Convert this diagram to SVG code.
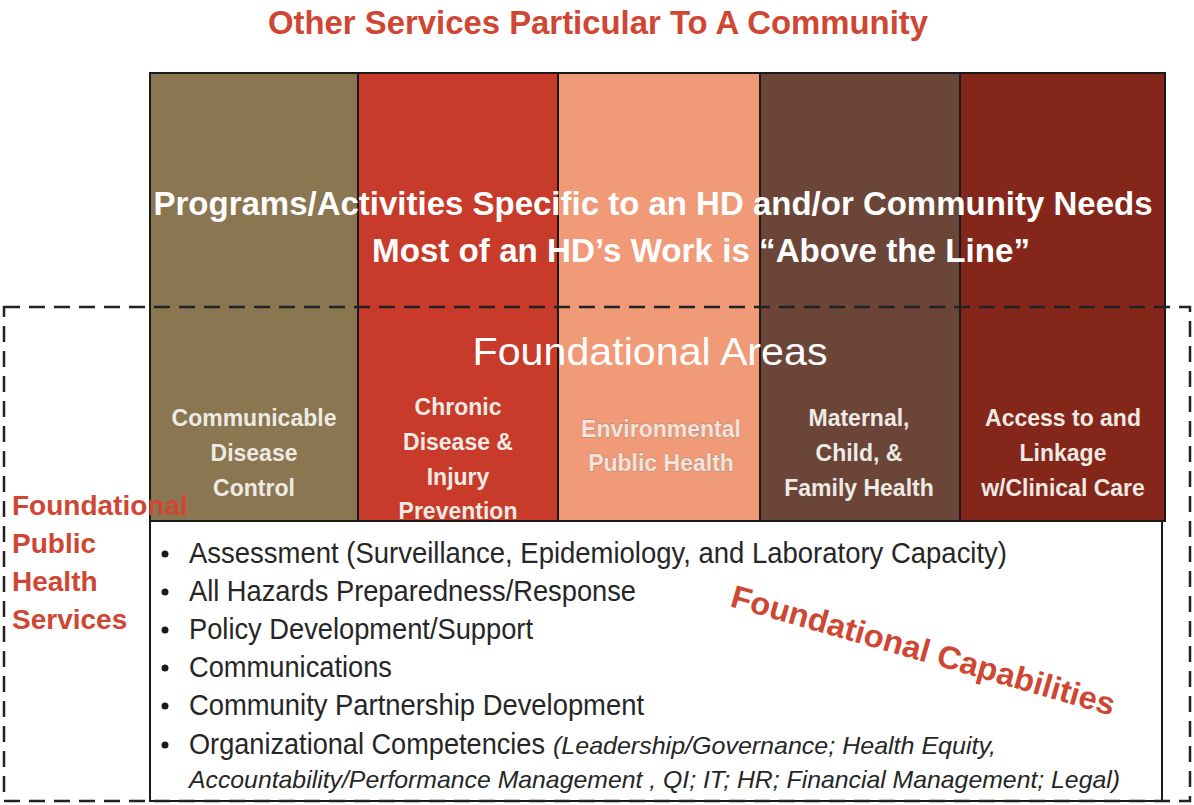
<svg xmlns="http://www.w3.org/2000/svg" width="1194" height="805" viewBox="0 0 1194 805">
<style>
.col{stroke:#1a1a1a;stroke-width:2}
.hdr{font-family:"Liberation Sans",Arial,sans-serif;font-weight:bold;fill:#ffffff;text-anchor:middle}
.area{font-family:"Liberation Sans",Arial,sans-serif;font-weight:bold;font-size:23px;fill:#eeeae4;text-anchor:middle}
.env{fill:#f6e2d8;stroke:#a88a7c;stroke-width:0.8;paint-order:stroke}
.red{font-family:"Liberation Sans",Arial,sans-serif;font-weight:bold;fill:#cf4632}
.bul{font-family:"Liberation Sans",Arial,sans-serif;font-size:29px;fill:#262626}
.ital{font-style:italic;font-size:24px}
.dash{fill:none;stroke:#222;stroke-width:2.5;stroke-dasharray:16 9}
</style>
<rect width="1194" height="805" fill="#ffffff"/>
<text id="title" class="red" x="268" y="34" font-size="34" textLength="660" lengthAdjust="spacingAndGlyphs">Other Services Particular To A Community</text>
<g id="columns">
<g id="col-communicable"><rect class="col" x="150" y="73" width="208" height="448" fill="#8a7752"/></g>
<g id="col-chronic"><rect class="col" x="358" y="73" width="200" height="448" fill="#c83a29"/></g>
<g id="col-environmental"><rect class="col" x="558" y="73" width="202" height="448" fill="#f09a77"/></g>
<g id="col-maternal"><rect class="col" x="760" y="73" width="200" height="448" fill="#6b4538"/></g>
<g id="col-access"><rect class="col" x="960" y="73" width="205" height="448" fill="#85261b"/></g>
</g>
<g id="capabilities-box"><rect x="150" y="521" width="1012" height="280" fill="#ffffff" stroke="#1a1a1a" stroke-width="2"/></g>
<g id="programs-label">
<text class="hdr" x="653" y="215" font-size="33" textLength="999" lengthAdjust="spacingAndGlyphs">Programs/Activities Specific to an HD and/or Community Needs</text>
<text class="hdr" x="701" y="262" font-size="33" textLength="658" lengthAdjust="spacingAndGlyphs">Most of an HD’s Work is “Above the Line”</text>
</g>
<g id="foundational-areas-label">
<text x="650" y="365" font-family="'Liberation Sans',Arial,sans-serif" font-size="39" fill="#ffffff" text-anchor="middle" textLength="355" lengthAdjust="spacingAndGlyphs">Foundational Areas</text>
</g>
<g id="area-communicable">
<text class="area" x="254" y="426">Communicable</text>
<text class="area" x="254" y="461">Disease</text>
<text class="area" x="254" y="496">Control</text>
</g>
<g id="area-chronic">
<text class="area" x="458" y="415">Chronic</text>
<text class="area" x="458" y="450">Disease &amp;</text>
<text class="area" x="458" y="485">Injury</text>
<text class="area" x="458" y="519">Prevention</text>
</g>
<g id="area-environmental">
<text class="area env" x="661" y="437">Environmental</text>
<text class="area env" x="661" y="471">Public Health</text>
</g>
<g id="area-maternal">
<text class="area" x="859" y="426">Maternal,</text>
<text class="area" x="859" y="461">Child, &amp;</text>
<text class="area" x="859" y="496">Family Health</text>
</g>
<g id="area-access">
<text class="area" x="1063" y="426">Access to and</text>
<text class="area" x="1063" y="461">Linkage</text>
<text class="area" x="1063" y="496">w/Clinical Care</text>
</g>
<g id="fphs-border"><rect class="dash" x="4" y="307" width="1186" height="494"/></g>
<g id="fphs-label">
<text class="red" x="12" y="515" font-size="28">Foundational</text>
<text class="red" x="12" y="553" font-size="28">Public</text>
<text class="red" x="12" y="591" font-size="28">Health</text>
<text class="red" x="12" y="629" font-size="28">Services</text>
</g>
<g id="capabilities-list">
<g fill="#1a1a1a">
<circle cx="165" cy="554" r="3.5"/>
<circle cx="165" cy="592" r="3.5"/>
<circle cx="165" cy="630" r="3.5"/>
<circle cx="165" cy="668" r="3.5"/>
<circle cx="165" cy="706" r="3.5"/>
<circle cx="165" cy="745" r="3.5"/>
</g>
<text class="bul" x="189" y="563" textLength="818" lengthAdjust="spacingAndGlyphs">Assessment (Surveillance, Epidemiology, and Laboratory Capacity)</text>
<text class="bul" x="189" y="601" textLength="447" lengthAdjust="spacingAndGlyphs">All Hazards Preparedness/Response</text>
<text class="bul" x="189" y="639" textLength="344" lengthAdjust="spacingAndGlyphs">Policy Development/Support</text>
<text class="bul" x="189" y="677" textLength="203" lengthAdjust="spacingAndGlyphs">Communications</text>
<text class="bul" x="189" y="715" textLength="455" lengthAdjust="spacingAndGlyphs">Community Partnership Development</text>
<text class="bul" x="189" y="754" textLength="356" lengthAdjust="spacingAndGlyphs">Organizational Competencies</text>
<text class="bul ital" x="553" y="754" textLength="443" lengthAdjust="spacingAndGlyphs">(Leadership/Governance; Health Equity,</text>
<text class="bul ital" x="189" y="788" textLength="931" lengthAdjust="spacingAndGlyphs">Accountability/Performance Management , QI; IT; HR; Financial Management; Legal)</text>
</g>
<g id="capabilities-label">
<text class="red" x="729" y="606" font-size="32" fill="#cc3b2a" textLength="398" lengthAdjust="spacingAndGlyphs" transform="rotate(16 729 606)">Foundational Capabilities</text>
</g>
</svg>
